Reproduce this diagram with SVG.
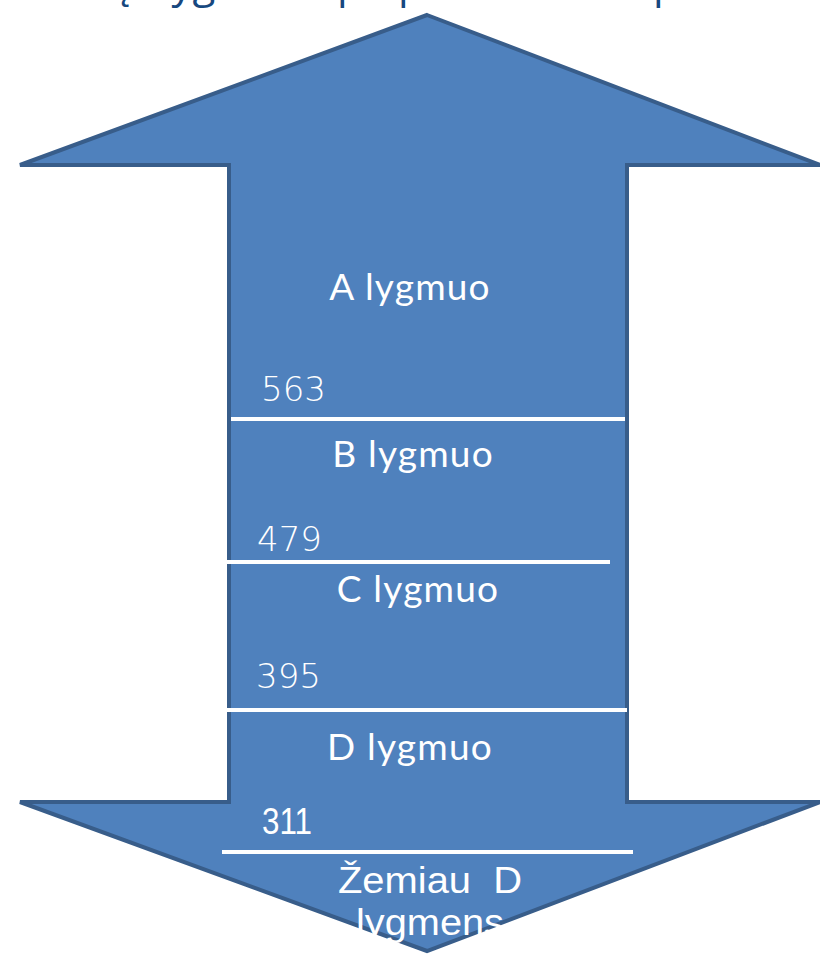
<svg xmlns="http://www.w3.org/2000/svg" width="820" height="954" viewBox="0 0 820 954">
<style>
.arrow{fill:#4F81BD;stroke:#385D8A;stroke-width:4;stroke-linejoin:miter}
.div{stroke:#FFFFFF;stroke-width:4}
.lvl{font-family:Lato,"Open Sans",sans-serif;font-size:37px;fill:#FFFFFF;text-anchor:middle;letter-spacing:1.2px}
.num{font-family:"DejaVu Sans",sans-serif;font-size:34px;fill:#FFFFFF;font-weight:200}
.cond{font-family:"Liberation Sans",sans-serif;font-size:36px;fill:#FFFFFF}
.title{font-family:"Open Sans",sans-serif;font-size:42px;fill:#17487F}
</style>
<rect width="820" height="954" fill="#FFFFFF"/>
<g id="title">
<text class="title" y="-2"><tspan x="106">ų</tspan><tspan x="150"> lyg</tspan><tspan x="337">p</tspan><tspan x="398">p</tspan><tspan x="653">p</tspan></text>
</g>
<g id="arrow">
<path class="arrow" d="M427,15 L820,165 L627,165 L627,802 L820,802 L427,951 L20,802 L229,802 L229,165 L20,165 Z"/>
</g>
<g id="connectors">
<line class="div" x1="231" y1="419" x2="625" y2="419"/>
<line class="div" x1="227" y1="562" x2="610" y2="562"/>
<line class="div" x1="227" y1="710" x2="627" y2="710"/>
<line class="div" x1="222" y1="852" x2="633" y2="852"/>
</g>
<g id="level-a">
<text class="lvl" x="410" y="300">A lygmuo</text>
<text class="num" x="261" y="401">563</text>
</g>
<g id="level-b">
<text class="lvl" x="413" y="467">B lygmuo</text>
<text class="num" x="257" y="551">479</text>
</g>
<g id="level-c">
<text class="lvl" x="418" y="602">C lygmuo</text>
<text class="num" x="256" y="688">395</text>
</g>
<g id="level-d">
<text class="lvl" x="410" y="760">D lygmuo</text>
<text class="cond" x="262" y="834" textLength="50" lengthAdjust="spacingAndGlyphs">311</text>
</g>
<g id="below-d">
<text class="cond" x="338" y="893" textLength="184" lengthAdjust="spacingAndGlyphs" xml:space="preserve">Žemiau  D</text>
<text class="cond" x="356" y="935" textLength="148" lengthAdjust="spacingAndGlyphs">lygmens</text>
</g>
</svg>
